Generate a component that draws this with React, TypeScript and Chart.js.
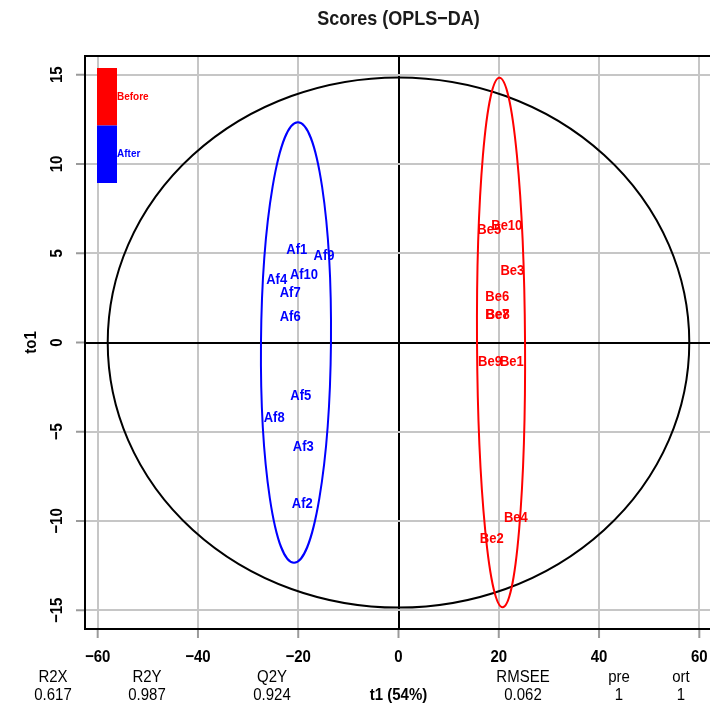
import React, { useEffect, useRef } from 'react';
import { Chart, registerables } from 'chart.js';

Chart.register(...registerables);

// ---------- data ----------
const TITLE = 'Scores (OPLS−DA)';
const X_TITLE = 't1 (54%)';
const Y_TITLE = 'to1';

const X_TICKS = [-60, -40, -20, 0, 20, 40, 60];
const Y_TICKS = [-15, -10, -5, 0, 5, 10, 15];
const X_MIN = -62.53;
const X_MAX = 62.53;
const Y_MIN = -16.05;
const Y_MAX = 16.05;

const GROUP_NAMES = ['Before', 'After'];

const BEFORE_LABELS = ['Be1', 'Be2', 'Be3', 'Be4', 'Be5', 'Be6', 'Be7', 'Be8', 'Be9', 'Be10'];
const BEFORE_T1 = [22.6, 18.6, 22.7, 23.4, 18.1, 19.7, 19.7, 19.8, 18.25, 21.6];
const BEFORE_TO1 = [-1.1, -11.02, 4.03, -9.81, 6.31, 2.57, 1.55, 1.57, -1.1, 6.55];

const AFTER_LABELS = ['Af1', 'Af2', 'Af3', 'Af4', 'Af5', 'Af6', 'Af7', 'Af8', 'Af9', 'Af10'];
const AFTER_T1 = [-20.3, -19.2, -19.0, -24.3, -19.5, -21.6, -21.6, -24.8, -14.86, -18.85];
const AFTER_TO1 = [5.19, -9.03, -5.86, 3.51, -3.0, 1.45, 2.8, -4.24, 4.87, 3.81];

// Hotelling ellipse + group ellipses (centre and semi-axes in data units)
const ELLIPSE_CX = [0, 20.45, -20.45];
const ELLIPSE_CY = [0, 0, 0];
const ELLIPSE_RX = [58.0, 4.79, 6.98];
const ELLIPSE_RY = [14.85, 14.83, 12.34];

const STAT_NAMES = ['R2X', 'R2Y', 'Q2Y', 'RMSEE', 'pre', 'ort'];
const STAT_VALUES = ['0.617', '0.987', '0.924', '0.062', '1', '1'];

// ---------- styles / layout ----------
const FONT = '"Liberation Sans", Arial, Helvetica, sans-serif';
const RED = '#ff0000';
const BLUE = '#0000ff';
const GROUP_COLORS = [RED, BLUE];
const ELLIPSE_COLORS = ['#000000', RED, BLUE];
const ELLIPSE_TILT = [0, -0.006, 0.009];
const GRID_COLOR = '#c6c6c6';
const TICK_COLOR = '#9a9a9a';
const STAT_X = [53, 147, 272, 523, 619, 681];
const TEXT_STRETCH = 1.15;

const CANVAS_W = 720;
const CANVAS_H = 705;

function drawText(
  ctx: CanvasRenderingContext2D,
  text: string,
  x: number,
  y: number,
  rotate = 0,
) {
  ctx.save();
  ctx.translate(x, y);
  if (rotate) ctx.rotate(rotate);
  ctx.scale(1, TEXT_STRETCH);
  ctx.fillText(text, 0, 0);
  ctx.restore();
}

const decor = {
  id: 'decor',
  afterDatasetsDraw(chart: any) {
    const ctx = chart.ctx as CanvasRenderingContext2D;
    const xs = chart.scales.x;
    const ys = chart.scales.y;
    const area = chart.chartArea;

    // ellipses
    ctx.save();
    ctx.lineWidth = 2;
    for (let i = 0; i < ELLIPSE_CX.length; i++) {
      const cx = xs.getPixelForValue(ELLIPSE_CX[i]);
      const cy = ys.getPixelForValue(ELLIPSE_CY[i]);
      const rx = Math.abs(xs.getPixelForValue(ELLIPSE_CX[i] + ELLIPSE_RX[i]) - cx);
      const ry = Math.abs(ys.getPixelForValue(ELLIPSE_CY[i] + ELLIPSE_RY[i]) - cy);
      ctx.strokeStyle = ELLIPSE_COLORS[i];
      ctx.beginPath();
      ctx.ellipse(cx, cy, rx, ry, ELLIPSE_TILT[i], 0, Math.PI * 2);
      ctx.stroke();
    }
    ctx.restore();

    // point labels
    ctx.save();
    ctx.font = `bold 13px ${FONT}`;
    ctx.textAlign = 'center';
    ctx.textBaseline = 'middle';
    const labelSets = [BEFORE_LABELS, AFTER_LABELS];
    chart.data.datasets.forEach((ds: any, di: number) => {
      const meta = chart.getDatasetMeta(di);
      ctx.fillStyle = GROUP_COLORS[di];
      meta.data.forEach((el: any, i: number) => {
        drawText(ctx, labelSets[di][i], el.x, el.y);
      });
    });
    ctx.restore();

    // legend (top-left inside plot)
    ctx.save();
    const lx = area.left + 12;
    const ly = area.top + 12;
    const lw = 20;
    const lh = 57.5;
    ctx.font = `bold 10px ${FONT}`;
    ctx.textBaseline = 'middle';
    ctx.textAlign = 'left';
    GROUP_NAMES.forEach((name, i) => {
      ctx.fillStyle = GROUP_COLORS[i];
      ctx.fillRect(lx, ly + i * lh, lw, lh);
      drawText(ctx, name, lx + lw, ly + i * lh + lh / 2);
    });
    ctx.restore();

    // border
    ctx.save();
    ctx.strokeStyle = '#000';
    ctx.lineWidth = 2;
    ctx.strokeRect(area.left, area.top, area.right - area.left, area.bottom - area.top);
    ctx.restore();

    // tick marks
    ctx.save();
    ctx.strokeStyle = TICK_COLOR;
    ctx.lineWidth = 2;
    X_TICKS.forEach((v) => {
      const px = xs.getPixelForValue(v);
      ctx.beginPath();
      ctx.moveTo(px, area.bottom + 1);
      ctx.lineTo(px, area.bottom + 9);
      ctx.stroke();
    });
    Y_TICKS.forEach((v) => {
      const py = ys.getPixelForValue(v);
      ctx.beginPath();
      ctx.moveTo(area.left - 1, py);
      ctx.lineTo(area.left - 9, py);
      ctx.stroke();
    });
    ctx.restore();

    // tick labels
    ctx.save();
    ctx.fillStyle = '#000';
    ctx.font = `bold 15px ${FONT}`;
    ctx.textAlign = 'center';
    ctx.textBaseline = 'middle';
    X_TICKS.forEach((v) => {
      const px = xs.getPixelForValue(v);
      drawText(ctx, String(v).replace('-', '−'), px, area.bottom + 28);
    });
    Y_TICKS.forEach((v) => {
      const py = ys.getPixelForValue(v);
      drawText(ctx, String(v).replace('-', '−'), area.left - 28, py, -Math.PI / 2);
    });
    ctx.restore();

    // axis titles
    ctx.save();
    ctx.fillStyle = '#000';
    ctx.font = `bold 15px ${FONT}`;
    ctx.textAlign = 'center';
    ctx.textBaseline = 'middle';
    drawText(ctx, X_TITLE, xs.getPixelForValue(0), area.bottom + 66);
    drawText(ctx, Y_TITLE, 31, (area.top + area.bottom) / 2, -Math.PI / 2);

    // title
    ctx.font = `bold 18px ${FONT}`;
    ctx.fillStyle = '#1a1a1a';
    drawText(ctx, TITLE, (area.left + area.right) / 2, 19);

    // stats
    ctx.fillStyle = '#000';
    ctx.font = `15px ${FONT}`;
    STAT_NAMES.forEach((name, i) => {
      drawText(ctx, name, STAT_X[i], area.bottom + 48);
      drawText(ctx, STAT_VALUES[i], STAT_X[i], area.bottom + 66);
    });
    ctx.restore();
  },
};

export default function App() {
  const canvasRef = useRef<HTMLCanvasElement | null>(null);

  useEffect(() => {
    const canvas = canvasRef.current;
    if (!canvas) return;
    const gridColor = (c: any) => (c.tick && c.tick.value === 0 ? '#000000' : GRID_COLOR);
    const chart = new Chart(canvas, {
      type: 'scatter',
      data: {
        datasets: [
          {
            label: GROUP_NAMES[0],
            data: BEFORE_T1.map((x, i) => ({ x, y: BEFORE_TO1[i] })),
            pointRadius: 0,
            backgroundColor: RED,
            borderColor: RED,
          },
          {
            label: GROUP_NAMES[1],
            data: AFTER_T1.map((x, i) => ({ x, y: AFTER_TO1[i] })),
            pointRadius: 0,
            backgroundColor: BLUE,
            borderColor: BLUE,
          },
        ],
      },
      options: {
        responsive: false,
        animation: false,
        devicePixelRatio: 1,
        layout: { padding: { left: 85, top: 56, right: CANVAS_W - 712, bottom: CANVAS_H - 629 } },
        plugins: {
          legend: { display: false },
          title: { display: false },
          tooltip: { enabled: false },
        },
        scales: {
          x: {
            type: 'linear',
            min: X_MIN,
            max: X_MAX,
            afterBuildTicks: (s: any) => {
              s.ticks = X_TICKS.map((v) => ({ value: v }));
            },
            ticks: { display: false },
            grid: { color: gridColor, lineWidth: 2, drawTicks: false },
            border: { display: false },
          },
          y: {
            type: 'linear',
            min: Y_MIN,
            max: Y_MAX,
            afterBuildTicks: (s: any) => {
              s.ticks = Y_TICKS.map((v) => ({ value: v }));
            },
            ticks: { display: false },
            grid: { color: gridColor, lineWidth: 2, drawTicks: false },
            border: { display: false },
          },
        },
      } as any,
      plugins: [decor],
    });
    return () => chart.destroy();
  }, []);

  return (
    <div
      style={{
        position: 'fixed',
        left: 0,
        top: 0,
        width: 710,
        height: 705,
        overflow: 'hidden',
        background: '#ffffff',
      }}
    >
      <canvas ref={canvasRef} width={CANVAS_W} height={CANVAS_H} style={{ display: 'block' }} />
    </div>
  );
}
